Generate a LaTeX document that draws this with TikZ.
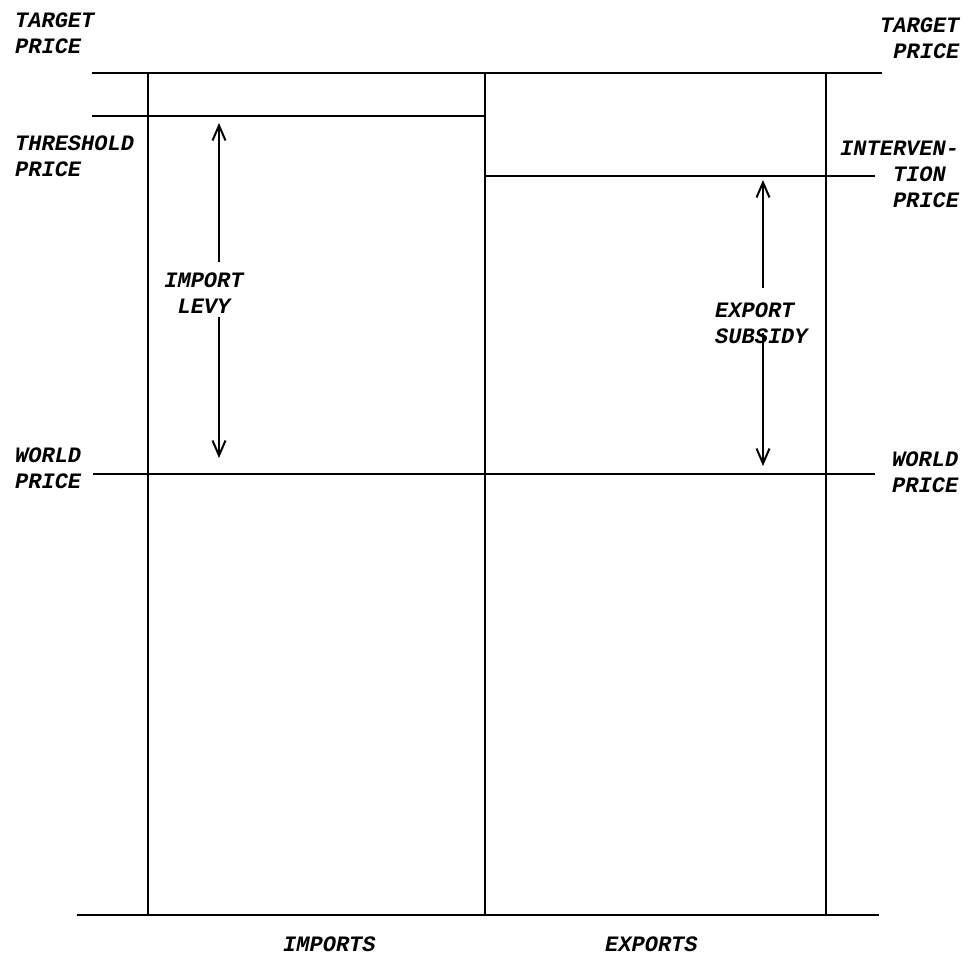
\documentclass[tikz,border=0pt]{standalone}
\usepackage{fontspec}
\newfontfamily\typew{Liberation Mono}
\usetikzlibrary{arrows.meta}
\tikzstyle{price} = [line width=2pt]
\tikzstyle{axis} = [line width=1.6pt]
\tikzstyle{label} = [inner sep=0pt, align=left, font=\typew\bfseries\itshape\fontsize{22}{26}\selectfont]
\tikzstyle{gap} = [draw, line width=2pt, -{Straight Barb[length=15pt,width=13pt,line width=2pt]}]

\begin{document}
\begin{tikzpicture}[x=1pt,y=-1pt]
		\useasboundingbox (0,0) rectangle (971,956);
		% price levels
		\coordinate (targetW) at (92,73);   \coordinate (targetE) at (882,73);
		\coordinate (threshW) at (92,116);  \coordinate (threshE) at (485,116);
		\coordinate (interW) at (485,176);  \coordinate (interE) at (875,176);
		\coordinate (worldW) at (93,474);   \coordinate (worldE) at (875,474);
		\coordinate (baseW) at (77,915);    \coordinate (baseE) at (879,915);
		\draw [price] (targetW)--(targetE);
		\draw [price] (threshW)--(threshE);
		\draw [price] (interW)--(interE);
		\draw [price] (worldW)--(worldE);
		\draw [price] (baseW)--(baseE);
		% columns
		\draw [axis] (148,73)--(148,915);
		\draw [axis] (485,73)--(485,915);
		\draw [axis] (826,73)--(826,915);
		% labels (base = last line)
		\node [label, anchor=base west] (targetL) at (15,53) {TARGET\\PRICE};
		\node [label, anchor=base west] (targetR) at (880,58) {TARGET\\\phantom{T}PRICE};
		\node [label, anchor=base west] (thresh) at (15,176) {THRESHOLD\\PRICE};
		\node [label, anchor=base west] (inter) at (840,207) {INTERVEN-\\\phantom{INTE}TION\\\phantom{INTE}PRICE};
		\node [label, anchor=base west] (worldL) at (15,488) {WORLD\\PRICE};
		\node [label, anchor=base west] (worldR) at (892,492) {WORLD\\PRICE};
		\node [label, align=center, anchor=base] (levy) at (204,313) {IMPORT\\LEVY};
		\node [label, anchor=base west] (subsidy) at (715,343) {EXPORT\\SUBSIDY};
		\node [label, anchor=base west] (imports) at (283,951) {IMPORTS};
		\node [label, anchor=base west] (exports) at (605,951) {EXPORTS};
		% levy and subsidy arrows
		\coordinate (levyA) at (219,262);    \coordinate (levyB) at (219,317);
		\coordinate (subA) at (763,288);     \coordinate (subB) at (763,333);
		\draw [gap] (levyA) -- ([yshift=-7pt]levyA |- threshW);
		\draw [gap] (levyB) -- ([yshift=16pt]levyB |- worldW);
		\draw [gap] (subA) -- ([yshift=-4pt]subA |- interW);
		\draw [gap] (subB) -- ([yshift=8pt]subB |- worldW);
	\end{tikzpicture}
\end{document}
